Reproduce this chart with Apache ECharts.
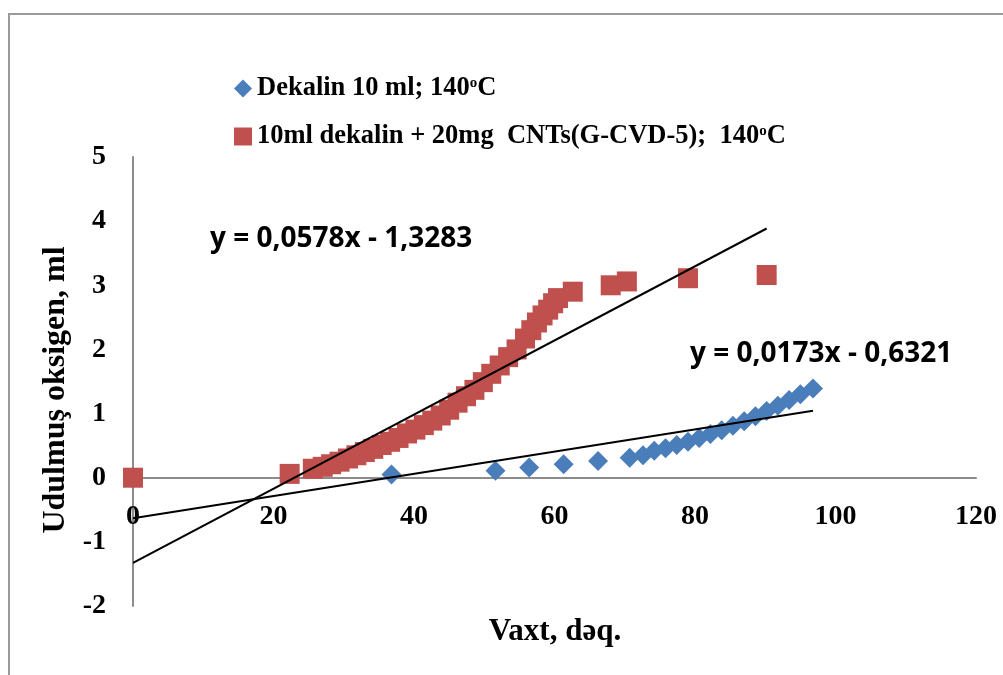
<!DOCTYPE html>
<html>
<head>
<meta charset="utf-8">
<script src="https://cdn.jsdelivr.net/npm/echarts@6/dist/echarts.min.js"></script>
<style>
  html, body { margin: 0; padding: 0; background: #ffffff; }
  #chart { width: 1003px; height: 675px; }
</style>
</head>
<body>
<div id="chart"></div>
<script>
// Oxygen absorbed over time (minutes), decalin at 140 °C
const dekalinTime   = [0, 36.8, 51.6, 56.4, 61.3, 66.2, 70.7, 72.6, 74.2, 75.8, 77.4, 79.0, 80.6, 82.2, 83.8, 85.4, 87.0, 88.6, 90.2, 91.8, 93.4, 95.0, 96.8];
const dekalinOxygen = [0, 0.05, 0.11, 0.16, 0.21, 0.26, 0.31, 0.35, 0.42, 0.46, 0.51, 0.56, 0.62, 0.68, 0.74, 0.81, 0.88, 0.96, 1.04, 1.12, 1.21, 1.30, 1.39];

// Decalin with 20 mg CNTs (G-CVD-5)
const cntTime   = [0, 22.3, 25.6, 27.0, 28.2, 29.4, 30.6, 31.8, 33.0, 34.2, 35.4, 36.6, 37.8, 39.0, 40.2, 41.4, 42.6, 43.8, 45.0, 46.2, 47.4, 48.6, 49.8, 51.0, 52.2, 53.4, 54.6, 55.8, 56.7, 57.5, 58.3, 59.1, 59.8, 60.5, 62.6, 68.0, 70.3, 79.0, 90.2];
const cntOxygen = [0, 0.06, 0.14, 0.17, 0.21, 0.25, 0.30, 0.35, 0.40, 0.45, 0.51, 0.56, 0.62, 0.69, 0.75, 0.82, 0.89, 0.97, 1.06, 1.17, 1.27, 1.37, 1.49, 1.62, 1.75, 1.88, 2.00, 2.17, 2.30, 2.42, 2.53, 2.62, 2.72, 2.80, 2.90, 3.00, 3.06, 3.11, 3.16];

// Linear trendlines: [decalin, decalin + CNTs]
const trendSlopes     = [0.0173, 0.0578];
const trendIntercepts = [-0.6321, -1.3283];
const trendLabels     = ['y = 0,0173x - 0,6321', 'y = 0,0578x - 1,3283'];

const seriesNames  = ['Dekalin 10 ml; 140°C', '10ml dekalin + 20mg  CNTs(G-CVD-5);  140°C'];
const legendLabels = ['Dekalin 10 ml; 140{sup|o}C', '10ml dekalin + 20mg  CNTs(G-CVD-5);  140{sup|o}C'];

const xRange = [0, 120, 20];
const yRange = [-2, 5, 1];

const xTitle = 'Vaxt, dəq.';
const yTitle = 'Udulmuş oksigen, ml';

const serif = 'Liberation Serif, Times New Roman, serif';
const sans  = 'Open Sans, Liberation Sans, sans-serif';

const gridTop = 157, gridBottom = 69, chartHeight = 675;

function pairs(xs, ys) { return xs.map((x, i) => [x, ys[i]]); }

function trendData(k) {
  const xs = k === 0 ? dekalinTime : cntTime;
  const x0 = Math.min.apply(null, xs), x1 = Math.max.apply(null, xs);
  return [x0, x1].map(x => [x, trendSlopes[k] * x + trendIntercepts[k]]);
}

// Distance from the grid bottom up to the y = 0 line, so the x labels sit under that line
const plotHeight = chartHeight - gridTop - gridBottom;
const zeroLift = plotHeight * (0 - yRange[0]) / (yRange[1] - yRange[0]);

const chart = echarts.init(document.getElementById('chart'), null, { renderer: 'canvas' });

chart.setOption({
  backgroundColor: '#ffffff',
  animation: false,
  grid: { left: 133, right: 27, top: gridTop, bottom: gridBottom, containLabel: false },
  legend: {
    orient: 'vertical',
    left: 229,
    top: 70,
    itemWidth: 18,
    itemHeight: 18,
    itemGap: 21,
    data: [
      { name: seriesNames[0], icon: 'diamond' },
      { name: seriesNames[1], icon: 'rect' }
    ],
    formatter: name => legendLabels[seriesNames.indexOf(name)],
    textStyle: {
      fontFamily: serif, fontWeight: 'bold', fontSize: 26.5, color: '#000', lineHeight: 26,
      rich: {
        sup: { fontFamily: serif, fontWeight: 'bold', fontSize: 15, color: '#000', lineHeight: 15, verticalAlign: 'top' }
      }
    }
  },
  xAxis: {
    type: 'value',
    min: xRange[0], max: xRange[1], interval: xRange[2],
    axisLine: { onZero: true, lineStyle: { color: '#8c8c8c', width: 2 } },
    axisTick: { show: false },
    splitLine: { show: false },
    axisLabel: { fontFamily: serif, fontWeight: 'bold', fontSize: 28, color: '#000', margin: 25 - zeroLift }
  },
  yAxis: {
    type: 'value',
    min: yRange[0], max: yRange[1], interval: yRange[2],
    axisLine: { show: true, onZero: false, lineStyle: { color: '#8c8c8c', width: 2 } },
    axisTick: { show: false },
    splitLine: { show: false },
    axisLabel: { fontFamily: serif, fontWeight: 'bold', fontSize: 28, color: '#000', margin: 27 }
  },
  graphic: [
    {
      type: 'rect', silent: true, z: -10,
      shape: { x: 9, y: 14, width: 1100, height: 800 },
      style: { fill: 'none', stroke: '#9a9a9a', lineWidth: 2 }
    },
    {
      type: 'text', x: 555, y: 632, silent: true,
      style: { text: xTitle, fontFamily: serif, fontWeight: 'bold', fontSize: 31, fill: '#000', textAlign: 'center', textVerticalAlign: 'middle' }
    },
    {
      type: 'text', x: 56, y: 390, rotation: Math.PI / 2, silent: true,
      style: { text: yTitle, fontFamily: serif, fontWeight: 'bold', fontSize: 32, fill: '#000', textAlign: 'center', textVerticalAlign: 'middle' }
    },
    {
      type: 'text', x: 210, y: 239, silent: true,
      style: { text: trendLabels[1], fontFamily: sans, fontWeight: 'bold', fontSize: 28, fill: '#000', textAlign: 'left', textVerticalAlign: 'middle' }
    },
    {
      type: 'text', x: 690, y: 354, silent: true,
      style: { text: trendLabels[0], fontFamily: sans, fontWeight: 'bold', fontSize: 28, fill: '#000', textAlign: 'left', textVerticalAlign: 'middle' }
    }
  ],
  series: [
    {
      name: seriesNames[0],
      type: 'scatter',
      symbol: 'diamond',
      symbolSize: 20,
      itemStyle: { color: '#4a7ebb', opacity: 1 },
      data: pairs(dekalinTime, dekalinOxygen),
      z: 2
    },
    {
      name: seriesNames[1],
      type: 'scatter',
      symbol: 'rect',
      symbolSize: 20,
      itemStyle: { color: '#c0504d', opacity: 1 },
      data: pairs(cntTime, cntOxygen),
      z: 3
    },
    {
      name: 'trend-0',
      type: 'line',
      data: trendData(0),
      symbol: 'none',
      silent: true,
      lineStyle: { color: '#000', width: 2 },
      z: 5
    },
    {
      name: 'trend-1',
      type: 'line',
      data: trendData(1),
      symbol: 'none',
      silent: true,
      lineStyle: { color: '#000', width: 2 },
      z: 5
    }
  ]
});
</script>
</body>
</html>
